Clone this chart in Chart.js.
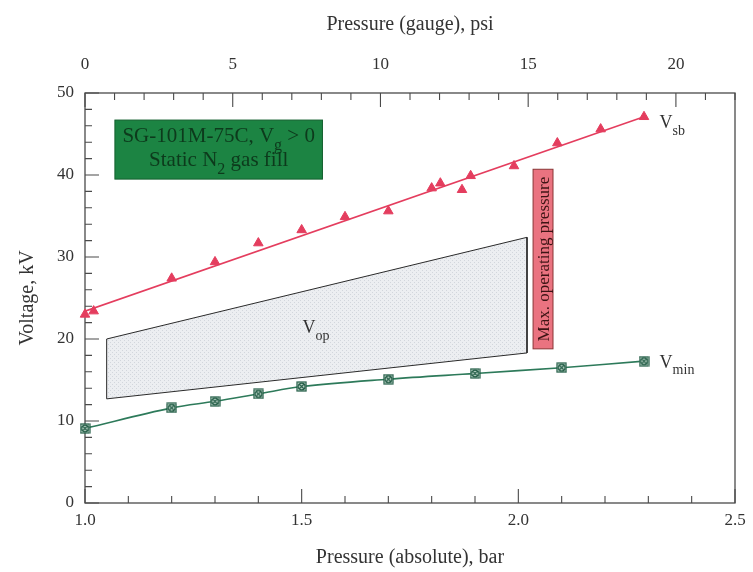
<!DOCTYPE html>
<html>
<head>
<meta charset="utf-8">
<script src="https://cdn.jsdelivr.net/npm/chart.js@4.4.1/dist/chart.umd.min.js"></script>
<style>
  html, body { margin: 0; padding: 0; background: #fff; }
</style>
</head>
<body>
<canvas id="myChart" width="753" height="572"></canvas>
<script>
// V_sb breakdown points: absolute pressure (bar) and voltage (kV)
const vsbBar = [1.0, 1.02, 1.2, 1.3, 1.4, 1.5, 1.6, 1.7, 1.8, 1.82, 1.87, 1.89, 1.99, 2.09, 2.19, 2.29];
const vsbKv  = [23.0, 23.4, 27.4, 29.4, 31.7, 33.3, 34.9, 35.6, 38.4, 39.0, 38.2, 39.9, 41.1, 43.9, 45.6, 47.1];

// straight fit drawn through the V_sb points
const vsbFitBar = [1.0, 2.29];
const vsbFitKv  = [23.4, 47.1];

// V_min curve
const vminBar = [1.0, 1.2, 1.3, 1.4, 1.5, 1.7, 1.9, 2.1, 2.29];
const vminKv  = [9.1, 11.6, 12.4, 13.3, 14.2, 15.1, 15.8, 16.5, 17.3];

// V_op operating window (closed outline)
const vopBar = [1.05, 2.02, 2.02, 1.05, 1.05];
const vopKv  = [20.0, 32.4, 18.3, 12.7, 20.0];

// tick labels
const barLabels = ['1.0', '1.5', '2.0', '2.5'];
const psiLabels = ['0', '5', '10', '15', '20'];
const kvLabels  = ['0', '10', '20', '30', '40', '50'];

const FONT = '"Liberation Serif", "Times New Roman", serif';
const axisColor = '#4a4a4a';
const textColor = '#333';
const red = '#e43d5e';
const green = '#2d7a5a';

const pts = (xs, ys) => xs.map((x, i) => ({x: x, y: ys[i]}));

// crossed-circle-in-square marker for V_min
const marker = document.createElement('canvas');
marker.width = 11; marker.height = 11;
(function () {
    const c = marker.getContext('2d');
    c.fillStyle = '#cfe1d7';
    c.fillRect(1, 1, 9, 9);
    c.strokeStyle = '#1f5a43';
    c.lineWidth = 1.2;
    c.strokeRect(1, 1, 9, 9);
    c.beginPath(); c.arc(5.5, 5.5, 3.4, 0, Math.PI * 2); c.stroke();
    c.beginPath();
    c.moveTo(3, 3); c.lineTo(8, 8);
    c.moveTo(8, 3); c.lineTo(3, 8);
    c.stroke();
})();

// stippled grey fill for V_op
const stipple = (function () {
    const p = document.createElement('canvas');
    p.width = 4; p.height = 4;
    const c = p.getContext('2d');
    c.fillStyle = '#eceef1';
    c.fillRect(0, 0, 4, 4);
    c.fillStyle = '#d2d6dc';
    c.fillRect(0, 0, 1, 1);
    c.fillRect(2, 2, 1, 1);
    return c.createPattern(p, 'repeat');
})();

function drawRich(ctx, parts, x, y, size, align) {
    const big = size + 'px ' + FONT;
    const small = Math.round(size * 0.75) + 'px ' + FONT;
    let w = 0;
    parts.forEach(([t, sub]) => { ctx.font = sub ? small : big; w += ctx.measureText(t).width; });
    let cx = align === 'center' ? x - w / 2 : x;
    ctx.textAlign = 'left';
    ctx.textBaseline = 'alphabetic';
    parts.forEach(([t, sub]) => {
        ctx.font = sub ? small : big;
        ctx.fillText(t, cx, sub ? y + size * 0.36 : y);
        cx += ctx.measureText(t).width;
    });
}

const frame = {
    id: 'frame',
    beforeDatasetsDraw(chart) {
        const {ctx, chartArea: a, scales} = chart;
        ctx.save();
        ctx.strokeStyle = axisColor;
        ctx.lineWidth = 1.3;
        ctx.strokeRect(a.left, a.top, a.right - a.left, a.bottom - a.top);
        const sets = [[scales.x, 0.5, 'bottom'], [scales.x2, 5, 'top'], [scales.y, 10, 'left']];
        ctx.lineWidth = 1.1;
        ctx.beginPath();
        sets.forEach(([s, step, side]) => {
            s.ticks.forEach(t => {
                const r = t.value / step;
                const len = Math.abs(r - Math.round(r)) < 1e-6 ? 14 : 7;
                const p = s.getPixelForValue(t.value);
                if (side === 'bottom') { ctx.moveTo(p, a.bottom); ctx.lineTo(p, a.bottom - len); }
                if (side === 'top') { ctx.moveTo(p, a.top); ctx.lineTo(p, a.top + len); }
                if (side === 'left') { ctx.moveTo(a.left, p); ctx.lineTo(a.left + len, p); }
            });
        });
        ctx.stroke();
        ctx.restore();
    },
    afterDatasetsDraw(chart) {
        const {ctx, scales: {x, y}} = chart;
        ctx.save();

        // green info box
        const gx0 = x.getPixelForValue(1.069), gx1 = x.getPixelForValue(1.548);
        const gy0 = y.getPixelForValue(46.7), gy1 = y.getPixelForValue(39.5);
        ctx.fillStyle = '#1c8443';
        ctx.fillRect(gx0, gy0, gx1 - gx0, gy1 - gy0);
        ctx.strokeStyle = '#14602f';
        ctx.lineWidth = 1;
        ctx.strokeRect(gx0, gy0, gx1 - gx0, gy1 - gy0);
        ctx.fillStyle = '#0d3a1c';
        const gc = (gx0 + gx1) / 2;
        drawRich(ctx, [['SG-101M-75C, V', false], ['g', true], [' > 0', false]], gc, gy0 + 22, 21, 'center');
        drawRich(ctx, [['Static N', false], ['2', true], [' gas fill', false]], gc, gy0 + 46, 21, 'center');

        // max operating pressure marker
        const rx0 = x.getPixelForValue(2.034), rx1 = x.getPixelForValue(2.08);
        const ry0 = y.getPixelForValue(40.7), ry1 = y.getPixelForValue(18.8);
        ctx.fillStyle = '#ea7380';
        ctx.fillRect(rx0, ry0, rx1 - rx0, ry1 - ry0);
        ctx.strokeStyle = '#8a3535';
        ctx.strokeRect(rx0, ry0, rx1 - rx0, ry1 - ry0);
        ctx.save();
        ctx.translate((rx0 + rx1) / 2, (ry0 + ry1) / 2);
        ctx.rotate(-Math.PI / 2);
        ctx.fillStyle = '#3d1414';
        ctx.font = '17px ' + FONT;
        ctx.textAlign = 'center';
        ctx.textBaseline = 'middle';
        ctx.fillText('Max. operating pressure', 0, 1);
        ctx.restore();

        // curve labels
        ctx.fillStyle = textColor;
        drawRich(ctx, [['V', false], ['sb', true]], x.getPixelForValue(2.326), y.getPixelForValue(45.7), 18, 'left');
        drawRich(ctx, [['V', false], ['min', true]], x.getPixelForValue(2.326), y.getPixelForValue(16.5), 18, 'left');
        drawRich(ctx, [['V', false], ['op', true]], x.getPixelForValue(1.502), y.getPixelForValue(20.7), 18, 'left');
        ctx.restore();
    }
};

const tickFont = {family: FONT, size: 17};
const titleFont = {family: FONT, size: 20};

const config = {
    type: 'scatter',
    data: {
        datasets: [
            {
                label: 'Vmin',
                data: pts(vminBar, vminKv),
                showLine: true,
                borderColor: green,
                borderWidth: 1.6,
                tension: 0.35,
                pointStyle: marker,
                pointRadius: 5,
                clip: false,
                order: 1
            },
            {
                label: 'Vsb fit',
                data: pts(vsbFitBar, vsbFitKv),
                showLine: true,
                borderColor: red,
                borderWidth: 1.6,
                pointRadius: 0,
                order: 2
            },
            {
                label: 'Vsb',
                data: pts(vsbBar, vsbKv),
                showLine: false,
                pointStyle: 'triangle',
                pointRadius: 5.5,
                backgroundColor: red,
                borderColor: red,
                borderWidth: 1,
                clip: false,
                order: 1
            },
            {
                label: 'Vop',
                data: pts(vopBar, vopKv),
                showLine: true,
                fill: 'shape',
                backgroundColor: stipple,
                borderColor: '#2a2a2a',
                borderWidth: 1,
                pointRadius: 0,
                tension: 0,
                order: 5
            }
        ]
    },
    options: {
        responsive: false,
        animation: false,
        layout: {padding: {left: 0, right: 14, top: 0, bottom: 0}},
        plugins: {
            legend: {display: false},
            tooltip: {enabled: false}
        },
        scales: {
            x: {
                type: 'linear',
                position: 'bottom',
                min: 1.0,
                max: 2.5,
                grid: {display: false, drawTicks: false},
                border: {display: false},
                ticks: {
                    stepSize: 0.1,
                    autoSkip: false,
                    maxRotation: 0,
                    padding: 7,
                    color: textColor,
                    font: tickFont,
                    callback: v => {
                        const s = Number(v).toFixed(1);
                        return barLabels.includes(s) ? s : '';
                    }
                },
                title: {
                    display: true,
                    text: 'Pressure (absolute), bar',
                    color: textColor,
                    font: titleFont,
                    padding: {top: 0, bottom: 2}
                },
                afterFit: s => { s.height = 69; }
            },
            x2: {
                type: 'linear',
                position: 'top',
                min: 0,
                max: 22,
                grid: {display: false, drawTicks: false},
                border: {display: false},
                ticks: {
                    stepSize: 1,
                    autoSkip: false,
                    maxRotation: 0,
                    padding: 18,
                    color: textColor,
                    font: tickFont,
                    callback: v => {
                        const s = String(Math.round(v));
                        return psiLabels.includes(s) ? s : '';
                    }
                },
                title: {
                    display: true,
                    text: 'Pressure (gauge), psi',
                    color: textColor,
                    font: titleFont,
                    padding: {top: 13, bottom: 0}
                },
                afterFit: s => { s.height = 93; }
            },
            y: {
                type: 'linear',
                position: 'left',
                min: 0,
                max: 50,
                grid: {display: false, drawTicks: false},
                border: {display: false},
                ticks: {
                    stepSize: 2,
                    autoSkip: false,
                    padding: 11,
                    color: textColor,
                    font: tickFont,
                    callback: v => {
                        const s = String(Math.round(v));
                        return kvLabels.includes(s) ? s : '';
                    }
                },
                title: {
                    display: true,
                    text: 'Voltage, kV',
                    color: textColor,
                    font: titleFont,
                    padding: {top: 16, bottom: 0}
                },
                afterFit: s => { s.width = 85; }
            }
        }
    },
    plugins: [frame]
};

const myChart = new Chart(document.getElementById('myChart'), config);
</script>
</body>
</html>
